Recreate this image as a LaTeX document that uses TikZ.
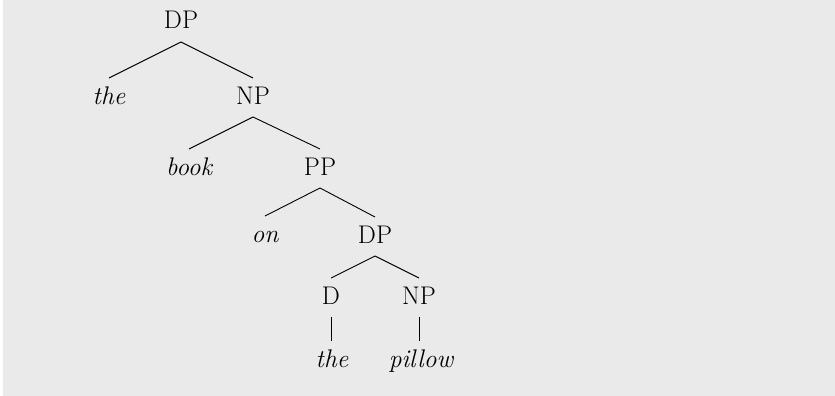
\documentclass[tikz,border=0pt]{standalone}
\definecolor{bgc}{HTML}{EAEAEA}
\begin{document}
\begin{tikzpicture}[x=1pt,y=-1pt,
  lab/.style={anchor=base,inner sep=0pt,font=\fontsize{25.5}{30}\selectfont},
  word/.style={lab,font=\fontsize{25.5}{30}\selectfont\itshape},
  br/.style={line width=0.9pt,black}]
\useasboundingbox (0,0) rectangle (835,396);
\fill[bgc] (3,0) rectangle (835,396);
\node[lab]  (dp1)  at (181,29) {DP};
\node[word] (the1) at (109,104) {the};
\node[lab]  (np1)  at (253,104) {NP};
\node[word] (book) at (189,175) {book};
\node[lab]  (pp)   at (320,175) {PP};
\node[word] (on)   at (265,242) {on};
\node[lab]  (dp2)  at (375,243) {DP};
\node[lab]  (d)    at (331,304) {D};
\node[lab]  (np2)  at (419,304) {NP};
\node[word] (the2) at (332,367) {the};
\node[word] (pil)  at (421,367) {pillow};
\foreach \p/\c in {dp1/the1,dp1/np1,np1/book,np1/pp,pp/on,pp/dp2,dp2/d,dp2/np2}
  \draw[br] ([yshift=-13pt]\p.base) -- ([yshift=26pt]\c.base);
\draw[br] ([yshift=-13pt]d.base) -- ([yshift=26pt]d.base |- the2.base);
\draw[br] ([yshift=-13pt]np2.base) -- ([yshift=26pt]np2.base |- pil.base);
\end{tikzpicture}
\end{document}
